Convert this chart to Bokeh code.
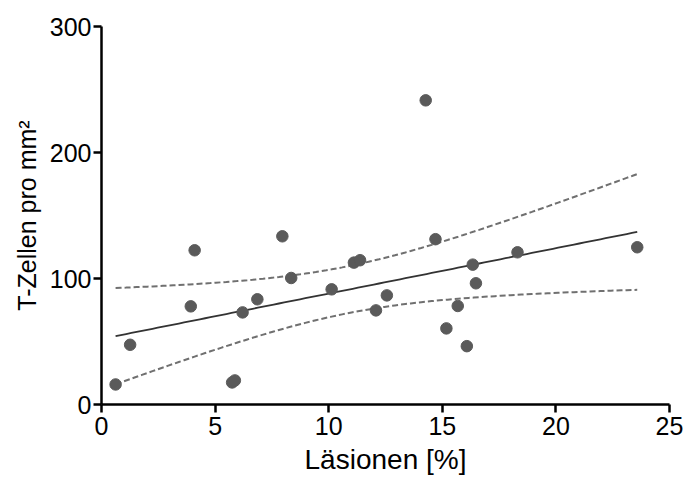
import numpy as np
from bokeh.plotting import figure
from bokeh.models import Range1d, FixedTicker
from bokeh.embed import file_html
from bokeh.resources import INLINE

# Data
lesion_pct = [0.62, 1.26, 3.93, 4.10, 5.75, 5.87, 6.21, 6.86, 7.96, 8.35,
              10.13, 11.11, 11.38, 12.08, 12.56, 14.27, 14.70, 15.18, 15.68,
              16.08, 16.34, 16.48, 18.31, 23.58]
tcells = [15.9, 47.4, 77.9, 122.4, 17.5, 19.1, 73.1, 83.5, 133.5, 100.4,
          91.4, 112.6, 114.5, 74.7, 86.6, 241.4, 131.2, 60.4, 78.2,
          46.3, 111.0, 96.2, 120.8, 124.8]
x_ticks = [0, 5, 10, 15, 20, 25]
y_ticks = [0, 100, 200, 300]

x = np.array(lesion_pct)
y = np.array(tcells)
n = len(x)
b, a = np.polyfit(x, y, 1)
xs = np.linspace(x.min(), x.max(), 100)
yhat = a + b * xs
resid = y - (a + b * x)
s = np.sqrt(np.sum(resid ** 2) / (n - 2))
xm = x.mean()
sxx = np.sum((x - xm) ** 2)
t = 2.074
se = s * np.sqrt(1.0 / n + (xs - xm) ** 2 / sxx)
upper = yhat + t * se
lower = yhat - t * se

p = figure(width=687, height=481, output_backend="svg", toolbar_location=None,
           x_range=Range1d(0, 25), y_range=Range1d(0, 300),
           min_border_left=101, min_border_right=18, min_border_top=26,
           min_border_bottom=77)
p.outline_line_color = None
p.grid.grid_line_color = None
p.background_fill_color = "white"
p.border_fill_color = "white"

p.line(xs, upper, line_color="#707070", line_width=2, line_dash="6 3")
p.line(xs, lower, line_color="#707070", line_width=2, line_dash="6 3")
p.line(xs, yhat, line_color="#333333", line_width=1.8)
p.scatter(x, y, size=11.5, fill_color="#5a5a5a", line_color="#5a5a5a")

for ax in (p.xaxis[0], p.yaxis[0]):
    ax.axis_line_width = 2.5
    ax.axis_line_color = "black"
    ax.major_tick_line_width = 2.5
    ax.major_tick_line_color = "black"
    ax.major_tick_out = 8
    ax.major_tick_in = 0
    ax.minor_tick_line_color = None
    ax.major_label_text_font = "Liberation Sans"
    ax.major_label_text_font_size = "25px"
    ax.major_label_text_color = "black"
    ax.axis_label_text_font = "Liberation Sans"
    ax.axis_label_text_font_style = "normal"
    ax.axis_label_text_color = "black"

p.xaxis.axis_label_text_font_size = "28px"
p.yaxis.axis_label_text_font_size = "25px"
p.xaxis.ticker = FixedTicker(ticks=x_ticks)
p.yaxis.ticker = FixedTicker(ticks=y_ticks)
p.xaxis.axis_label = "Läsionen [%]"
p.yaxis.axis_label = "T-Zellen pro mm²"
p.xaxis.major_label_standoff = 4
p.yaxis.major_label_standoff = 2
p.xaxis.axis_label_standoff = 6
p.yaxis.axis_label_standoff = 6

open("out.html", "w").write(file_html(p, INLINE))
